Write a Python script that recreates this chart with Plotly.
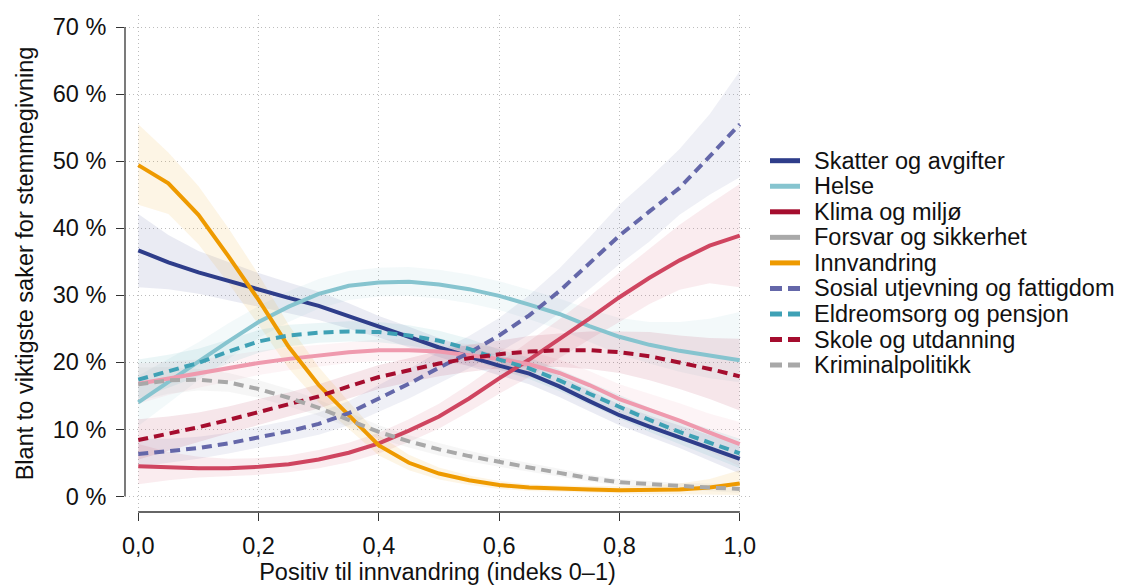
import plotly.graph_objects as go

# x: positiv til innvandring (indeks 0-1)
x = [0.0, 0.05, 0.1, 0.15, 0.2, 0.25, 0.3, 0.35, 0.4, 0.45, 0.5,
     0.55, 0.6, 0.65, 0.7, 0.75, 0.8, 0.85, 0.9, 0.95, 1.0]

skatter = [36.7, 34.9, 33.4, 32.1, 30.8, 29.6, 28.4, 26.9, 25.3, 23.8, 22.2, 20.8, 19.5, 18.3, 16.4, 14.2, 12.1, 10.4, 8.8, 7.2, 5.6]
skatter_lo = [31.2, 30.9, 30.2, 29.3, 28.3, 27.3, 26.3, 25.0, 23.7, 22.3, 20.8, 19.4, 18.0, 16.7, 14.8, 12.7, 10.6, 8.9, 7.2, 5.3, 3.4]
skatter_hi = [42.1, 39.0, 36.6, 34.9, 33.3, 31.9, 30.5, 28.8, 26.9, 25.3, 23.6, 22.2, 21.0, 19.9, 18.0, 15.8, 13.7, 12.0, 10.5, 9.1, 7.9]

helse = [14.0, 17.1, 20.1, 23.1, 26.0, 28.3, 30.2, 31.4, 31.9, 32.0, 31.6, 30.9, 29.9, 28.6, 27.2, 25.4, 23.8, 22.6, 21.7, 21.0, 20.3]
helse_lo = [10.5, 13.9, 17.3, 20.5, 23.6, 26.0, 28.0, 29.3, 29.8, 29.9, 29.5, 28.8, 27.8, 26.4, 24.9, 23.0, 21.2, 19.8, 18.6, 17.6, 17.0]
helse_hi = [18.0, 20.5, 23.0, 25.8, 28.4, 30.6, 32.4, 33.6, 34.1, 34.2, 33.8, 33.1, 32.1, 30.8, 29.5, 27.9, 26.6, 26.0, 26.0, 26.5, 27.5]

klima = [4.5, 4.3, 4.2, 4.2, 4.4, 4.8, 5.5, 6.5, 7.9, 9.8, 11.9, 14.6, 17.6, 20.4, 23.4, 26.5, 29.7, 32.6, 35.2, 37.4, 38.9]
klima_lo = [1.8, 2.4, 2.8, 3.0, 3.2, 3.6, 4.2, 5.1, 6.4, 8.1, 10.1, 12.6, 15.3, 17.8, 20.6, 23.4, 26.0, 28.7, 30.8, 31.8, 31.2]
klima_hi = [7.8, 6.6, 5.9, 5.6, 5.7, 6.1, 6.9, 8.0, 9.5, 11.5, 13.8, 16.7, 19.9, 23.1, 26.4, 29.8, 33.4, 37.0, 40.5, 43.6, 46.6]

forsvar = [16.8, 17.6, 18.3, 19.1, 19.9, 20.5, 21.0, 21.5, 21.8, 21.8, 21.6, 21.1, 20.5, 19.7, 18.4, 16.6, 14.5, 12.9, 11.3, 9.5, 7.8]
forsvar_lo = [13.8, 15.1, 16.2, 17.2, 18.1, 18.8, 19.4, 19.9, 20.2, 20.2, 20.0, 19.5, 18.8, 17.8, 16.4, 14.5, 12.3, 10.5, 8.7, 6.7, 4.5]
forsvar_hi = [19.8, 20.1, 20.4, 21.0, 21.7, 22.2, 22.6, 23.1, 23.4, 23.4, 23.2, 22.7, 22.2, 21.6, 20.4, 18.7, 16.7, 15.3, 13.9, 12.3, 11.1]

innvandring = [49.4, 46.7, 42.0, 35.8, 29.3, 22.3, 16.6, 12.0, 7.6, 5.0, 3.4, 2.4, 1.7, 1.3, 1.1, 1.0, 0.9, 0.9, 1.0, 1.3, 1.9]
innvandring_lo = [43.5, 42.1, 37.6, 31.8, 25.6, 19.1, 14.0, 10.0, 6.1, 3.9, 2.5, 1.7, 1.1, 0.8, 0.6, 0.5, 0.4, 0.3, 0.3, 0.3, 0.2]
innvandring_hi = [55.5, 51.3, 46.3, 40.0, 33.1, 25.6, 19.3, 14.1, 9.1, 6.2, 4.3, 3.1, 2.3, 1.8, 1.6, 1.5, 1.5, 1.6, 1.9, 2.6, 3.9]

sosial = [6.3, 6.7, 7.2, 7.9, 8.8, 9.7, 10.8, 12.4, 14.6, 16.8, 19.2, 21.4, 24.0, 27.0, 30.6, 34.7, 38.9, 42.5, 46.0, 50.7, 55.5]
sosial_lo = [4.4, 5.0, 5.6, 6.4, 7.3, 8.2, 9.2, 10.6, 12.6, 14.6, 16.9, 19.1, 21.5, 24.1, 27.3, 30.9, 34.6, 38.0, 42.0, 45.0, 47.6]
sosial_hi = [8.6, 8.6, 8.9, 9.5, 10.4, 11.3, 12.5, 14.2, 16.6, 19.0, 21.6, 23.9, 26.6, 30.0, 34.0, 38.6, 43.5, 47.5, 51.8, 57.0, 63.4]

eldre = [17.4, 18.6, 19.9, 21.6, 23.1, 24.0, 24.4, 24.6, 24.5, 24.0, 23.2, 22.0, 20.4, 19.1, 17.3, 15.3, 13.3, 11.4, 9.6, 8.0, 6.4]
eldre_lo = [14.6, 16.2, 17.9, 19.8, 21.4, 22.4, 22.9, 23.1, 23.0, 22.5, 21.7, 20.5, 18.9, 17.5, 15.7, 13.6, 11.6, 9.6, 7.7, 6.0, 4.2]
eldre_hi = [20.4, 21.1, 22.0, 23.4, 24.8, 25.6, 25.9, 26.1, 26.0, 25.5, 24.7, 23.5, 21.9, 20.7, 18.9, 17.0, 15.0, 13.2, 11.5, 10.0, 8.6]

skole = [8.4, 9.3, 10.3, 11.4, 12.6, 13.7, 14.9, 16.4, 17.8, 18.8, 19.8, 20.6, 21.2, 21.6, 21.8, 21.8, 21.5, 20.9, 20.0, 19.0, 17.9]
skole_lo = [5.5, 6.8, 8.1, 9.4, 10.7, 11.9, 13.1, 14.6, 16.0, 17.0, 17.9, 18.6, 19.1, 19.3, 19.3, 19.0, 18.4, 17.3, 16.0, 14.5, 12.8]
skole_hi = [11.5, 11.9, 12.5, 13.4, 14.5, 15.5, 16.7, 18.2, 19.6, 20.6, 21.7, 22.6, 23.3, 23.9, 24.3, 24.6, 24.6, 24.5, 24.0, 23.6, 23.5]

krim = [16.7, 17.3, 17.4, 17.0, 16.0, 14.7, 13.2, 11.4, 9.6, 8.2, 7.0, 6.0, 5.1, 4.3, 3.5, 2.7, 2.1, 1.8, 1.5, 1.3, 1.1]
krim_lo = [14.2, 15.3, 15.8, 15.6, 14.7, 13.4, 12.0, 10.3, 8.6, 7.3, 6.1, 5.2, 4.4, 3.6, 2.9, 2.2, 1.6, 1.3, 1.0, 0.8, 0.5]
krim_hi = [19.2, 19.3, 19.0, 18.4, 17.3, 16.0, 14.4, 12.5, 10.6, 9.1, 7.9, 6.8, 5.8, 5.0, 4.1, 3.2, 2.6, 2.3, 2.0, 1.9, 1.8]

y_ticks = [0, 10, 20, 30, 40, 50, 60, 70]
y_ticklabels = ["0 %", "10 %", "20 %", "30 %", "40 %", "50 %", "60 %", "70 %"]
x_ticks = [0, 0.2, 0.4, 0.6, 0.8, 1.0]
x_ticklabels = ["0,0", "0,2", "0,4", "0,6", "0,8", "1,0"]

# name, mean, lo, hi, line colour, legend colour, band rgb, dashed
series = [
    ("Skatter og avgifter", skatter, skatter_lo, skatter_hi, "#2e3d8a", "#2e3d8a", "45,62,139", False),
    ("Helse", helse, helse_lo, helse_hi, "#86c4cf", "#86c4cf", "136,198,208", False),
    ("Klima og miljø", klima, klima_lo, klima_hi, "#cf4560", "#a50d2e", "207,69,96", False),
    ("Forsvar og sikkerhet", forsvar, forsvar_lo, forsvar_hi, "#ef9aae", "#a9a9a9", "240,150,170", False),
    ("Innvandring", innvandring, innvandring_lo, innvandring_hi, "#ee9a00", "#ee9a00", "238,154,0", False),
    ("Sosial utjevning og fattigdom", sosial, sosial_lo, sosial_hi, "#6467a9", "#6467a9", "100,103,169", True),
    ("Eldreomsorg og pensjon", eldre, eldre_lo, eldre_hi, "#3fa1b5", "#3fa1b5", "62,162,181", True),
    ("Skole og utdanning", skole, skole_lo, skole_hi, "#a50d2e", "#a50d2e", "165,13,46", True),
    ("Kriminalpolitikk", krim, krim_lo, krim_hi, "#a8a8a8", "#a8a8a8", "168,168,168", True),
]

FONT = "Liberation Sans, Arial, sans-serif"
FS = 23.5
OFF = 8  # page body margin in the browser
W, H = 1123 - OFF, 588 - OFF
ML, MR, MT, MB = 125 - OFF, 373, 15 - OFF, 76

fig = go.Figure()

# confidence bands first
for name, m, lo, hi, col, lcol, rgb, dashed in series:
    fig.add_trace(go.Scatter(
        x=x + x[::-1], y=hi + lo[::-1], fill="toself",
        fillcolor=f"rgba({rgb},0.10)", line=dict(width=0),
        hoverinfo="skip", showlegend=False))

for name, m, lo, hi, col, lcol, rgb, dashed in series:
    fig.add_trace(go.Scatter(
        x=x, y=m, mode="lines", name=name, showlegend=False,
        line=dict(color=col, width=4, dash="10px,6px" if dashed else "solid")))

# manual legend (tighter line spacing than plotly's own legend)
# positions given in screen pixels, converted to paper coords
def px_x(p):
    return (p - OFF - ML) / (W - ML - MR)

def px_y(p):
    return 1 - (p - OFF - MT) / (H - MT - MB)

shapes = []
annotations = []
for i, (name, m, lo, hi, col, lcol, rgb, dashed) in enumerate(series):
    yy = 160.7 + 25.55 * i
    shapes.append(dict(type="line", xref="paper", yref="paper",
                       x0=px_x(770), x1=px_x(800), y0=px_y(yy), y1=px_y(yy),
                       line=dict(color=lcol, width=5, dash="12px,6px" if dashed else "solid")))
    annotations.append(dict(text=name, xref="paper", yref="paper", x=px_x(812), y=px_y(yy),
                            xanchor="left", yanchor="middle", showarrow=False,
                            font=dict(family=FONT, size=FS, color="#111111")))

# axis lines spanning only the tick range
shapes.append(dict(type="line", xref="paper", yref="y", x0=0, x1=0, y0=0, y1=70,
                   line=dict(color="#333333", width=1.3)))
shapes.append(dict(type="line", xref="x", yref="paper", x0=0, x1=1, y0=0, y1=0,
                   line=dict(color="#333333", width=1.3)))

fig.update_layout(
    width=W, height=H,
    margin=dict(l=ML, r=MR, t=MT, b=MB, autoexpand=False),
    plot_bgcolor="white", paper_bgcolor="white",
    font=dict(family=FONT, size=FS, color="#111111"),
    shapes=shapes, annotations=annotations,
    showlegend=False,
)
fig.update_xaxes(
    range=[-0.0221, 1.0171], tickvals=x_ticks, ticktext=x_ticklabels, automargin=False,
    showgrid=True, gridcolor="#bdbdbd", griddash="1px,3px", gridwidth=1,
    zeroline=False, showline=False, ticks="outside", ticklen=8, tickcolor="#333333",
    ticklabelstandoff=5,
    title=dict(text="Positiv til innvandring (indeks 0–1)", standoff=4,
               font=dict(family=FONT, size=FS, color="#111111")),
)
fig.update_yaxes(
    range=[-2.34, 71.8], tickvals=y_ticks, ticktext=y_ticklabels, automargin=False,
    showgrid=True, gridcolor="#bdbdbd", griddash="1px,3px", gridwidth=1,
    zeroline=False, showline=False, ticks="outside", ticklen=8, tickcolor="#333333",
    ticklabelstandoff=5,
    title=dict(text="Blant to viktigste saker for stemmegivning", standoff=12,
               font=dict(family=FONT, size=FS, color="#111111")),
)

fig.write_html("out.html")
